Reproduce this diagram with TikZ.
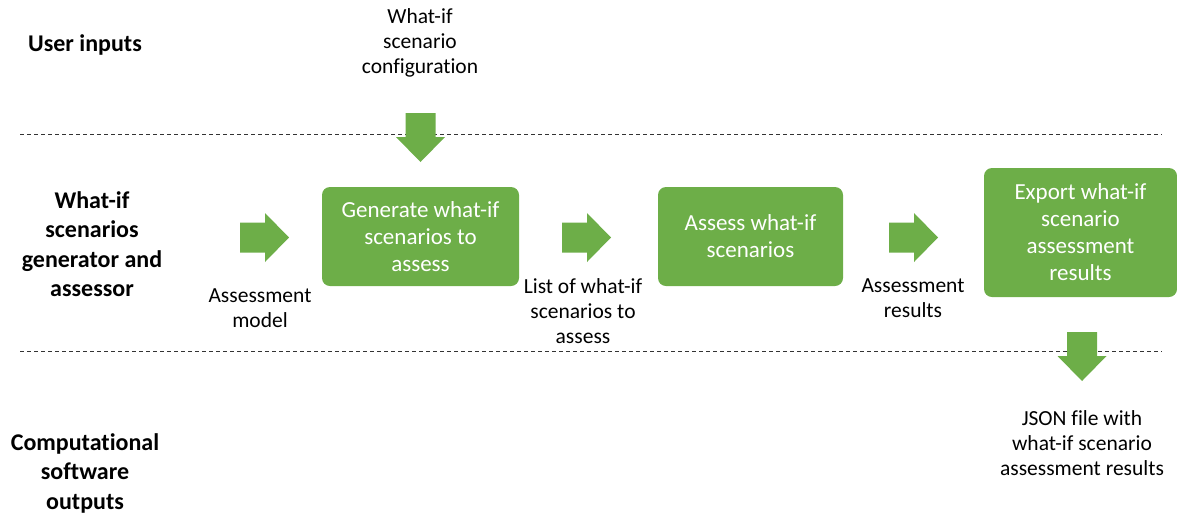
\documentclass[tikz,border=0pt]{standalone}
\usepackage{fontspec}
\setmainfont{Carlito}[Ligatures=NoCommon]
\usetikzlibrary{positioning}
\definecolor{boxgreen}{HTML}{6DAE48}

\begin{document}
\begin{tikzpicture}[x=1pt, y=-1pt,
    lbl/.style={align=center, inner sep=0pt, font=\fontsize{21.5}{25}\selectfont},
    lane/.style={align=center, inner sep=0pt, font=\fontsize{24}{29.5}\selectfont\bfseries},
    stepbox/.style={fill=boxgreen, rounded corners=8pt, text=white, align=center,
                    inner sep=0pt, font=\fontsize{23}{27}\selectfont},
    sepline/.style={dash pattern=on 4pt off 3pt, line width=0.9pt, black!80},
    rarr/.pic={\fill[boxgreen] (0,-15) -- (25,-15) -- (25,-24.5) -- (49,0)
                -- (25,24.5) -- (25,15) -- (0,15) -- cycle;},
    darr/.pic={\fill[boxgreen] (-15,0) -- (15,0) -- (15,24) -- (24.5,24) -- (0,49)
                -- (-24.5,24) -- (-15,24) -- cycle;}
]
    \useasboundingbox (0,0) rectangle (1177,515);

    % lane separators
    \coordinate (sepTopL) at (20,134);
    \coordinate (sepTopR) at (1162,134);
    \coordinate (sepBotL) at (20,351);
    \coordinate (sepBotR) at (1162,351);
    \draw[sepline] (sepTopL) -- (sepTopR);
    \draw[sepline] (sepBotL) -- (sepBotR);

    % lane titles
    \node[lane] (laneUser) at (85,45) {User inputs};
    \node[lane] (laneGen)  at (92,244) {What-if\\scenarios\\generator and\\assessor};
    \node[lane] (laneOut)  at (85,473) {Computational\\software\\outputs};

    % process boxes
    \node[stepbox, minimum width=197pt, minimum height=99pt] (generate) at (420.5,236.5)
        {Generate what-if\\scenarios to\\assess};
    \node[stepbox, minimum width=185pt, minimum height=99pt] (assess) at (750.5,236.5)
        {Assess what-if\\scenarios};
    \node[stepbox, minimum width=193pt, minimum height=129pt] (export) at (1080.5,232.5)
        {Export what-if\\scenario\\assessment\\results};

    % block arrows
    \pic at (240,237.5) {rarr};
    \pic at (562,237.5) {rarr};
    \pic at (889,237.5) {rarr};
    \pic at (420.5,113) {darr};
    \pic at (1082,332) {darr};

    % data labels
    \node[lbl] (config)  at (420,43)   {What-if\\scenario\\configuration};
    \node[lbl] (model)   at (260,308.5){Assessment\\model};
    \node[lbl] (list)    at (583,311)  {List of what-if\\scenarios to\\assess};
    \node[lbl] (results) at (913,298.5){Assessment\\results};
    \node[lbl] (json)    at (1082,443) {JSON file with\\what-if scenario\\assessment results};
\end{tikzpicture}
\end{document}
